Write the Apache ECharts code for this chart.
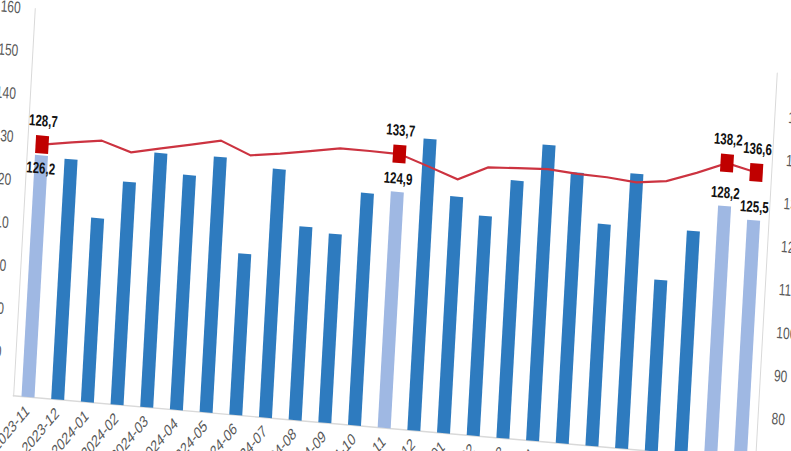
<!DOCTYPE html>
<html>
<head>
<meta charset="utf-8">
<script src="https://cdn.jsdelivr.net/npm/echarts@6/dist/echarts.min.js"></script>
<style>
  html, body { margin: 0; padding: 0; background: #ffffff; overflow: hidden; width: 791px; height: 451px; }
  #chart {
    position: absolute; left: 0; top: 0;
    width: 862px; height: 420px;
    transform-origin: 0 0;
    transform: matrix(1, 0.0869, -0.077, 1.38, -22.17, -51.7);
  }
</style>
</head>
<body>
<div id="chart"></div>
<script>
// ---- data ----
const categories = [
  '2023-11','2023-12','2024-01','2024-02','2024-03','2024-04','2024-05','2024-06',
  '2024-07','2024-08','2024-09','2024-10','2024-11','2024-12','2025-01','2025-02',
  '2025-03','2025-04','2025-05','2025-06','2025-07','2025-08','2025-09','2025-10','2025-11'
];
const barValues = [
  126.2, 125.9, 112.8, 121.8, 129.1, 124.6, 129.4, 107.5,
  127.8, 115.0, 113.9, 124.0, 124.9, 137.8, 125.0, 121.1,
  129.9, 138.8, 133.0, 121.6, 133.9, 109.8, 121.8, 128.2, 125.5
];
const lineValues = [
  128.7, 129.8, 130.8, 128.7, 130.2, 131.7, 133.2, 130.4,
  131.4, 132.6, 133.8, 133.8, 133.7, 131.4, 129.0, 132.4,
  132.8, 133.2, 132.7, 132.5, 131.9, 132.8, 135.3, 138.2, 136.6
];
const highlightCategories = ['2023-11', '2024-11', '2025-10', '2025-11'];
const yMin = 70, yMax = 160, yStep = 10;

// ---- styles ----
const darkBlue = '#2e7bbf';
const lightBlue = '#9fb8e3';
const lineRed = '#cc3340';
const markerRed = '#c00000';
const fmt = v => v.toFixed(1).replace('.', ',');
const labelFont = { color: '#111', fontWeight: 'bold', fontSize: 11.5, fontFamily: 'Liberation Sans, Arial, sans-serif' };

const barData = barValues.map((v, i) => {
  const hi = highlightCategories.includes(categories[i]);
  const item = { value: v, itemStyle: { color: hi ? lightBlue : darkBlue } };
  if (hi) {
    item.label = Object.assign({
      show: true,
      position: i === 0 ? 'insideTop' : 'top',
      distance: i === 0 ? 3 : 4,
      formatter: p => fmt(p.value)
    }, labelFont);
  }
  return item;
});

const lineData = lineValues.map((v, i) => {
  const hi = highlightCategories.includes(categories[i]);
  const item = { value: v };
  if (hi) {
    item.symbol = 'rect';
    item.symbolSize = 13;
    item.itemStyle = { color: markerRed };
    item.label = Object.assign({
      show: true, position: 'top', distance: 5,
      formatter: p => fmt(p.value)
    }, labelFont);
  } else {
    item.symbol = 'none';
  }
  return item;
});

const yAxisBase = {
  type: 'value', min: yMin, max: yMax, interval: yStep,
  splitLine: { show: false },
  axisLine: { show: true, lineStyle: { color: '#d9d9d9', width: 1 } },
  axisTick: { show: false },
  axisLabel: { color: '#595959', fontSize: 12, margin: 14, fontFamily: 'Liberation Sans, Arial, sans-serif' }
};

const chart = echarts.init(document.getElementById('chart'), null, { renderer: 'svg' });
chart.setOption({
  backgroundColor: '#ffffff',
  animation: false,
  grid: { left: 60, right: 60, top: 40, height: 280.4, containLabel: false },
  xAxis: {
    type: 'category',
    data: categories,
    axisLine: { show: true, lineStyle: { color: '#d9d9d9', width: 1 } },
    axisTick: { show: false },
    axisLabel: {
      interval: 0, rotate: 45, color: '#595959', fontSize: 12, margin: 8,
      fontFamily: 'Liberation Sans, Arial, sans-serif'
    }
  },
  yAxis: [
    Object.assign({ position: 'left' }, yAxisBase),
    Object.assign({ position: 'right' }, yAxisBase)
  ],
  series: [
    {
      type: 'bar', yAxisIndex: 0, data: barData, barWidth: 13, z: 2
    },
    {
      type: 'line', yAxisIndex: 1, data: lineData, z: 3,
      symbol: 'none',
      lineStyle: { color: lineRed, width: 1.6 },
      itemStyle: { color: markerRed }
    }
  ]
});
</script>
</body>
</html>
